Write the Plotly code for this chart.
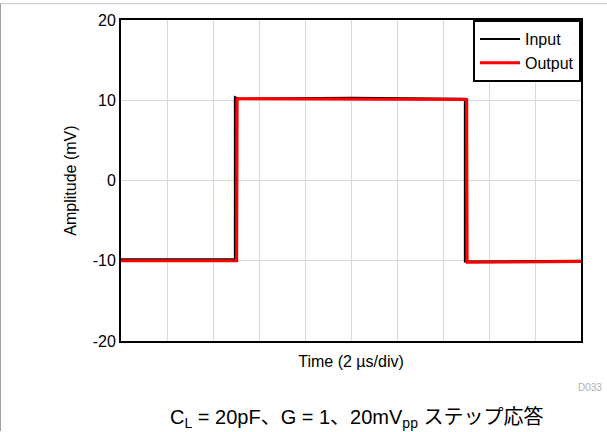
import plotly.graph_objects as go

# Data (time in µs, amplitude in mV)
input_t = [0, 4.95, 4.95, 5.1, 10.0, 14.95, 14.95, 20]
input_v = [-9.8, -9.8, 10.4, 10.2, 10.3, 10.2, -10.1, -10.0]
output_t = [0, 5.03, 5.05, 10.0, 15.03, 15.05, 20]
output_v = [-10.0, -10.0, 10.2, 10.15, 10.1, -10.2, -10.1]

y_ticks = [-20, -10, 0, 10, 20]
y_tick_labels = ["-20", "-10", "0", "10", "20"]
x_grid = [2, 4, 6, 8, 10, 12, 14, 16, 18]

fig = go.Figure()
fig.add_trace(go.Scatter(x=input_t, y=input_v, mode="lines", name="Input",
                         line=dict(color="black", width=2)))
fig.add_trace(go.Scatter(x=output_t, y=output_v, mode="lines", name="Output",
                         line=dict(color="#ff0000", width=3)))

font = "Liberation Sans, Arial, sans-serif"
L, R, T, B = 121, 26, 17, 91
PW, PH = 607 - L - R, 432 - T - B


def px(x):
    return (x - L) / PW


def py(y):
    return (432 - B - y) / PH


fig.update_layout(
    width=607, height=432,
    margin=dict(l=L, r=R, t=T, b=B),
    paper_bgcolor="white", plot_bgcolor="white",
    font=dict(family=font, color="black", size=16),
    showlegend=True,
    legend=dict(x=1, y=1, xanchor="right", yanchor="top",
                bgcolor="white", bordercolor="black", borderwidth=2,
                font=dict(size=16, family=font), tracegroupgap=0,
                itemwidth=40),
    xaxis=dict(range=[0, 20], tickvals=x_grid, showticklabels=False,
               ticks="", showgrid=True, gridcolor="#d9d9d9", gridwidth=1,
               showline=True, linecolor="black", linewidth=2, mirror=True,
               zeroline=False,
               title=dict(text="Time (2 µs/div)", font=dict(size=16), standoff=14)),
    yaxis=dict(range=[-20, 20], tickvals=y_ticks, ticktext=y_tick_labels, ticks="",
               showgrid=True, gridcolor="#d9d9d9", gridwidth=1,
               showline=True, linecolor="black", linewidth=2, mirror=True,
               zeroline=False, tickfont=dict(size=16),
               title=dict(text="Amplitude (mV)", font=dict(size=16), standoff=12)),
)

fig.add_annotation(text="D033", xref="paper", yref="paper",
                   x=px(604), y=py(388), xanchor="right",
                   yanchor="middle", showarrow=False,
                   font=dict(size=10, color="#b0b0b0", family=font))
fig.add_annotation(text="C<sub>L</sub> = 20pF、G = 1、20mV<sub>pp</sub> ステップ応答",
                   xref="paper", yref="paper",
                   x=px(357), y=py(419), xanchor="center",
                   yanchor="middle", showarrow=False,
                   font=dict(size=20, color="black",
                             family="Liberation Sans, Noto Sans CJK JP, sans-serif"))

# thin gray image frame on left and top
fig.add_shape(type="line", xref="paper", yref="paper",
              x0=px(0.5), x1=px(0.5), y0=py(432), y1=py(0),
              line=dict(color="#a0a0a0", width=1))
fig.add_shape(type="line", xref="paper", yref="paper",
              x0=px(0), x1=px(607), y0=py(0.5), y1=py(0.5),
              line=dict(color="#c8c8c8", width=1))

fig.write_html("out.html", config={"displayModeBar": False},
               post_script="document.body.style.margin='0px';document.body.style.overflow='hidden';")
